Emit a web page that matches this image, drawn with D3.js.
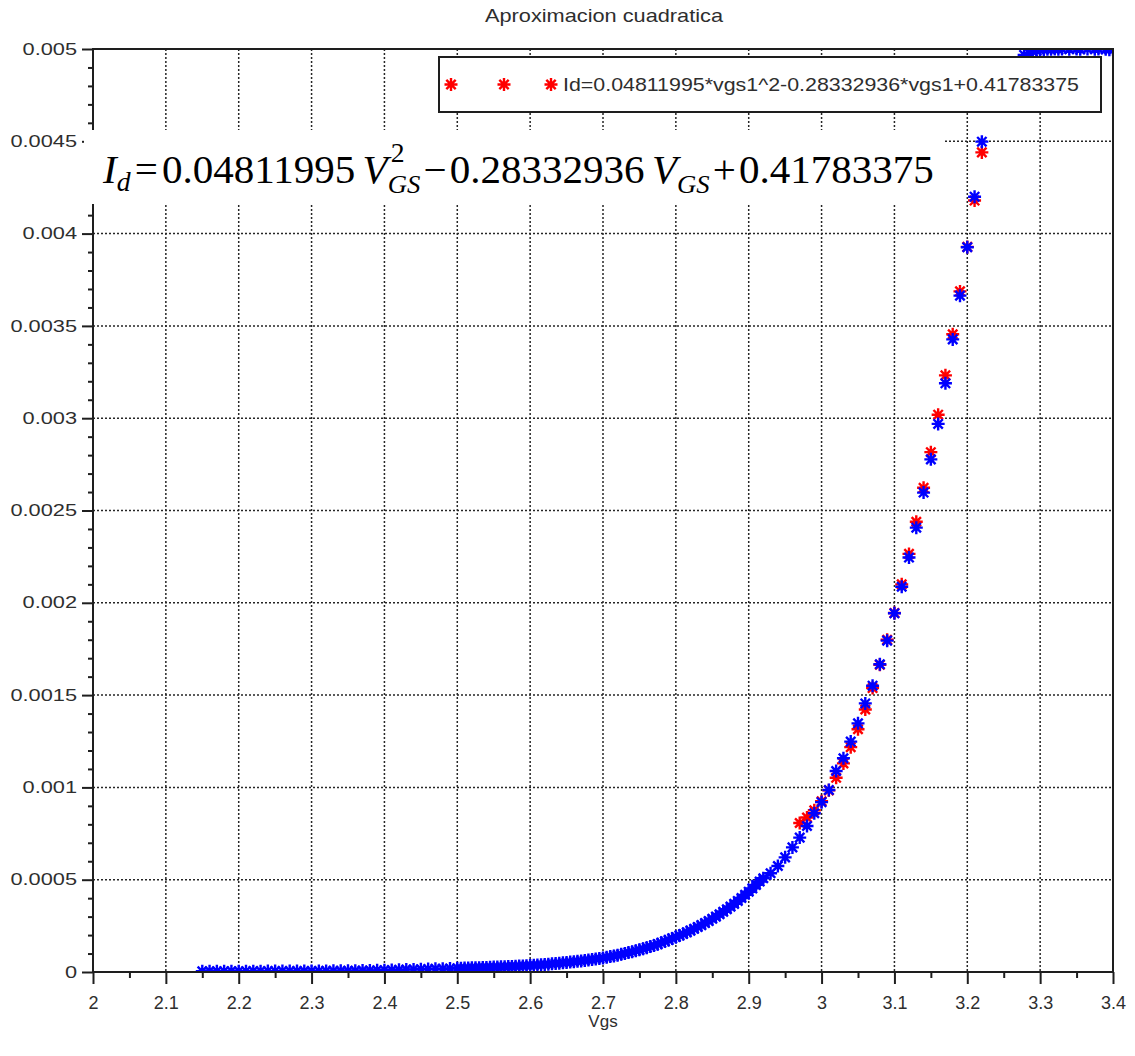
<!DOCTYPE html>
<html>
<head>
<meta charset="utf-8">
<script src="https://cdn.jsdelivr.net/npm/d3@7"></script>
<style>
  body { margin: 0; background: #fff; }
  svg { display: block; }
</style>
</head>
<body>
<svg id="chart" width="1135" height="1056"></svg>
<script>
// ---- text ----
const titleText = "Aproximacion cuadratica";
const xAxisLabel = "Vgs";
const legendLabel = "Id=0.04811995*vgs1^2-0.28332936*vgs1+0.41783375";

// ---- axis ticks ----
const xTicks = [2, 2.1, 2.2, 2.3, 2.4, 2.5, 2.6, 2.7, 2.8, 2.9, 3, 3.1, 3.2, 3.3, 3.4];
const xTickLabels = ["2", "2.1", "2.2", "2.3", "2.4", "2.5", "2.6", "2.7", "2.8", "2.9", "3", "3.1", "3.2", "3.3", "3.4"];
const yTicks = [0, 0.0005, 0.001, 0.0015, 0.002, 0.0025, 0.003, 0.0035, 0.004, 0.0045, 0.005];
const yTickLabels = ["0", "0.0005", "0.001", "0.0015", "0.002", "0.0025", "0.003", "0.0035", "0.004", "0.0045", "0.005"];

// ---- quadratic fit, evaluated on the upper part of the sweep (A) ----
const fitVgs = [2.97, 2.98, 2.99, 3.00, 3.01, 3.02, 3.03, 3.04, 3.05, 3.06, 3.07, 3.08, 3.09,
                3.10, 3.11, 3.12, 3.13, 3.14, 3.15, 3.16, 3.17, 3.18, 3.19, 3.20, 3.21, 3.22];
const fitId = [0.000807, 0.000837, 0.000876, 0.000925, 0.000984, 0.001052, 0.001130, 0.001218,
               0.001315, 0.001422, 0.001538, 0.001664, 0.001800, 0.001945, 0.002100, 0.002265,
               0.002439, 0.002623, 0.002816, 0.003019, 0.003232, 0.003455, 0.003687, 0.003928,
               0.004179, 0.004440];

// ---- measured drain current vs gate voltage (A) ----
const measVgs = [
  2.15, 2.16, 2.17, 2.18, 2.19, 2.20, 2.21, 2.22, 2.23, 2.24, 2.25, 2.26, 2.27, 2.28, 2.29,
  2.30, 2.31, 2.32, 2.33, 2.34, 2.35, 2.36, 2.37, 2.38, 2.39,
  2.40, 2.41, 2.42, 2.43, 2.44, 2.45, 2.46, 2.47, 2.48, 2.49,
  2.500, 2.505, 2.510, 2.515, 2.520, 2.525, 2.530, 2.535, 2.540, 2.545,
  2.550, 2.555, 2.560, 2.565, 2.570, 2.575, 2.580, 2.585, 2.590, 2.595,
  2.600, 2.605, 2.610, 2.615, 2.620, 2.625, 2.630, 2.635, 2.640, 2.645,
  2.650, 2.655, 2.660, 2.665, 2.670, 2.675, 2.680, 2.685, 2.690, 2.695,
  2.700, 2.705, 2.710, 2.715, 2.720, 2.725, 2.730, 2.735, 2.740, 2.745,
  2.750, 2.755, 2.760, 2.765, 2.770, 2.775, 2.780, 2.785, 2.790, 2.795,
  2.800, 2.805, 2.810, 2.815, 2.820, 2.825, 2.830, 2.835, 2.840, 2.845,
  2.850, 2.855, 2.860, 2.865, 2.870, 2.875, 2.880, 2.885, 2.890, 2.895,
  2.900, 2.905, 2.910, 2.915, 2.920,
  2.93, 2.94, 2.95, 2.96, 2.97, 2.98, 2.99, 3.00, 3.01, 3.02, 3.03, 3.04, 3.05, 3.06, 3.07,
  3.08, 3.09, 3.10, 3.11, 3.12, 3.13, 3.14, 3.15, 3.16, 3.17, 3.18, 3.19, 3.20, 3.21, 3.22,
  3.278, 3.285, 3.290, 3.295, 3.300, 3.305, 3.310, 3.315, 3.320, 3.325, 3.330, 3.340,
  3.350, 3.355, 3.365, 3.375, 3.380, 3.390, 3.395, 3.400
];
const measId = [
  4.0e-6, 4.2e-6, 4.0e-6, 4.3e-6, 4.4e-6, 4.2e-6, 4.5e-6, 4.6e-6, 4.5e-6, 4.8e-6, 4.9e-6, 5.0e-6, 5.0e-6, 5.3e-6, 5.4e-6,
  5.6e-6, 5.8e-6, 6.0e-6, 6.2e-6, 6.5e-6, 6.8e-6, 7.2e-6, 7.7e-6, 8.3e-6, 9.0e-6,
  1.0e-5, 1.1e-5, 1.2e-5, 1.3e-5, 1.4e-5, 1.5e-5, 1.6e-5, 1.7e-5, 1.8e-5, 1.9e-5,
  2.00e-5, 2.06e-5, 2.12e-5, 2.17e-5, 2.24e-5, 2.30e-5, 2.37e-5, 2.43e-5, 2.50e-5, 2.57e-5,
  2.65e-5, 2.72e-5, 2.80e-5, 2.88e-5, 2.96e-5, 3.04e-5, 3.13e-5, 3.22e-5, 3.31e-5, 3.40e-5,
  3.50e-5, 3.64e-5, 3.78e-5, 3.93e-5, 4.09e-5, 4.25e-5, 4.42e-5, 4.59e-5, 4.77e-5, 4.96e-5,
  5.16e-5, 5.36e-5, 5.57e-5, 5.79e-5, 6.02e-5, 6.26e-5, 6.51e-5, 6.76e-5, 7.03e-5, 7.31e-5,
  7.60e-5, 7.96e-5, 8.33e-5, 8.72e-5, 9.13e-5, 9.56e-5, 1.00e-4, 1.05e-4, 1.10e-4, 1.15e-4,
  1.20e-4, 1.26e-4, 1.32e-4, 1.38e-4, 1.44e-4, 1.51e-4, 1.58e-4, 1.66e-4, 1.73e-4, 1.82e-4,
  1.90e-4, 1.98e-4, 2.06e-4, 2.15e-4, 2.24e-4, 2.34e-4, 2.44e-4, 2.54e-4, 2.65e-4, 2.76e-4,
  2.88e-4, 3.00e-4, 3.13e-4, 3.26e-4, 3.40e-4, 3.54e-4, 3.69e-4, 3.85e-4, 4.01e-4, 4.18e-4,
  4.35e-4, 4.53e-4, 4.72e-4, 4.90e-4, 5.08e-4,
  5.35e-4, 5.74e-4, 6.21e-4, 6.75e-4, 7.28e-4, 7.91e-4, 8.60e-4, 9.20e-4, 9.86e-4, 1.089e-3,
  1.158e-3, 1.248e-3, 1.347e-3, 1.455e-3, 1.551e-3, 1.667e-3, 1.795e-3, 1.943e-3, 2.087e-3, 2.245e-3,
  2.407e-3, 2.597e-3, 2.777e-3, 2.969e-3, 3.189e-3, 3.427e-3, 3.664e-3, 3.926e-3, 4.200e-3, 4.498e-3,
  4.968e-3, 4.978e-3, 4.986e-3, 4.991e-3, 4.995e-3, 4.997e-3, 4.998e-3, 4.999e-3, 5.000e-3, 4.998e-3,
  5.000e-3, 4.999e-3, 5.000e-3, 4.998e-3, 5.000e-3, 4.999e-3, 5.000e-3, 4.998e-3, 4.996e-3, 4.999e-3
];

// ---- layout ----
const W = 1135, H = 1056;
const plot = { left: 93, right: 1113, top: 49, bottom: 972 };
const sans = "'Liberation Sans', Arial, Helvetica, sans-serif";
const serif = "'Liberation Serif', 'Times New Roman', Times, serif";
const labelColor = "#2e2e2e";
const axisColor = "#1e1e1e";

const svg = d3.select("#chart");

const x = d3.scaleLinear().domain([2, 3.4]).range([plot.left, plot.right]);
const y = d3.scaleLinear().domain([0, 0.005]).range([plot.bottom, plot.top]);

const xMinor = d3.range(2.05, 3.4, 0.1);
const yMinor = d3.range(1, 50).filter(i => i % 5 !== 0).map(i => i * 1e-4);

// widen a text node horizontally by a factor
function stretch(sel, k) {
  sel.each(function () {
    const w = this.getComputedTextLength();
    d3.select(this).attr("textLength", w * k).attr("lengthAdjust", "spacingAndGlyphs");
  });
}

// ---- dotted grid ----
const grid = svg.append("g")
  .attr("stroke", "#262626")
  .attr("stroke-width", 1.5)
  .attr("stroke-dasharray", "2,2");
grid.selectAll("line.gx").data(xTicks.slice(1, -1)).join("line")
  .attr("class", "gx")
  .attr("x1", d => x(d)).attr("x2", d => x(d))
  .attr("y1", plot.top).attr("y2", plot.bottom);
grid.selectAll("line.gy").data(yTicks.slice(1, -1)).join("line")
  .attr("class", "gy")
  .attr("x1", plot.left).attr("x2", plot.right)
  .attr("y1", d => y(d)).attr("y2", d => y(d));

// ---- asterisk marker ----
function asterisk(r) {
  const k = r * 0.72;
  return `M${-r},0H${r}M0,${-r}V${r}M${-k},${-k}L${k},${k}M${-k},${k}L${k},${-k}`;
}
const markR = 6.5;
const markW = 2.4;

svg.append("clipPath").attr("id", "plotClip")
  .append("rect")
  .attr("x", plot.left).attr("y", plot.top)
  .attr("width", plot.right - plot.left).attr("height", plot.bottom - plot.top);

const marks = svg.append("g").attr("clip-path", "url(#plotClip)");

// fitted curve (red) below measured points (blue)
marks.append("g")
  .attr("stroke", "#ff0000").attr("stroke-width", markW).attr("fill", "none")
  .selectAll("path").data(fitVgs).join("path")
  .attr("d", asterisk(markR))
  .attr("transform", (d, i) => `translate(${x(d)},${y(fitId[i])})`);

marks.append("g")
  .attr("stroke", "#0000ff").attr("stroke-width", markW).attr("fill", "none")
  .selectAll("path").data(measVgs).join("path")
  .attr("d", asterisk(markR))
  .attr("transform", (d, i) => `translate(${x(d)},${y(measId[i])})`);

// ---- axes ----
const xAxisG = svg.append("g").attr("transform", `translate(0,${plot.bottom})`)
  .call(d3.axisBottom(x).tickValues(xTicks).tickFormat((d, i) => xTickLabels[i])
    .tickSize(12).tickSizeOuter(0));
xAxisG.select(".domain").remove();
xAxisG.selectAll(".tick line").attr("stroke", axisColor).attr("stroke-width", 2);
xAxisG.selectAll(".tick text")
  .attr("y", 37).attr("dy", 0)
  .attr("font-family", sans).attr("font-size", 18).attr("fill", labelColor);

const xMinorG = svg.append("g").attr("transform", `translate(0,${plot.bottom})`)
  .call(d3.axisBottom(x).tickValues(xMinor).tickFormat("").tickSize(6).tickSizeOuter(0));
xMinorG.select(".domain").remove();
xMinorG.selectAll(".tick line").attr("stroke", axisColor).attr("stroke-width", 2);

const yAxisG = svg.append("g").attr("transform", `translate(${plot.left},0)`)
  .call(d3.axisLeft(y).tickValues(yTicks).tickFormat((d, i) => yTickLabels[i])
    .tickSize(11).tickPadding(5).tickSizeOuter(0));
yAxisG.select(".domain").remove();
yAxisG.selectAll(".tick line").attr("stroke", axisColor).attr("stroke-width", 2);
yAxisG.selectAll(".tick text")
  .attr("font-family", sans).attr("font-size", 16).attr("fill", labelColor);
stretch(yAxisG.selectAll(".tick text"), 1.36);

const yMinorG = svg.append("g").attr("transform", `translate(${plot.left},0)`)
  .call(d3.axisLeft(y).tickValues(yMinor).tickFormat("").tickSize(5).tickSizeOuter(0));
yMinorG.select(".domain").remove();
yMinorG.selectAll(".tick line").attr("stroke", axisColor).attr("stroke-width", 2);

// axes box
svg.append("rect")
  .attr("x", plot.left).attr("y", plot.top)
  .attr("width", plot.right - plot.left).attr("height", plot.bottom - plot.top)
  .attr("fill", "none").attr("stroke", axisColor).attr("stroke-width", 2);

// ---- title and axis label ----
svg.append("text")
  .attr("x", 485).attr("y", 21.5)
  .attr("font-family", sans).attr("font-size", 18.5).attr("fill", labelColor)
  .attr("textLength", 238).attr("lengthAdjust", "spacingAndGlyphs")
  .text(titleText);

svg.append("text")
  .attr("x", (plot.left + plot.right) / 2).attr("y", 1027)
  .attr("text-anchor", "middle")
  .attr("font-family", sans).attr("font-size", 17).attr("fill", labelColor)
  .text(xAxisLabel);

// ---- equation annotation on a white panel ----
svg.append("rect")
  .attr("x", 84).attr("y", 130).attr("width", 861).attr("height", 74)
  .attr("fill", "#fff");

const eq = svg.append("g")
  .attr("font-family", serif).attr("fill", "#000");
let cx = 0;
function piece(str, opt) {
  const o = Object.assign({ italic: false, size: 40, dy: 0, gap: 0 }, opt || {});
  const t = eq.append("text")
    .attr("x", cx + o.gap).attr("y", o.dy)
    .attr("font-size", o.size)
    .attr("font-style", o.italic ? "italic" : "normal")
    .text(str);
  const w = t.node().getComputedTextLength();
  return { t, w: o.gap + w };
}
function add(str, opt) { cx += piece(str, opt).w; }
add("I", { italic: true });
add("d", { italic: true, size: 27, dy: 8 });
add("=", { gap: 4 });
add("0.04811995", { gap: 4 });
add("V", { italic: true, gap: 7 });
{
  const sup = piece("2", { size: 27, dy: -21, gap: 3 });
  const sub = piece("GS", { italic: true, size: 26, dy: 10, gap: 0 });
  cx += Math.max(sup.w, sub.w);
}
add("\u2212", { gap: 3 });
add("0.28332936", { gap: 3 });
add("V", { italic: true, gap: 7 });
add("GS", { italic: true, size: 26, dy: 10 });
add("+", { gap: 3 });
add("0.41783375", { gap: 3 });
const eqScale = (934 - 103) / cx;
eq.attr("transform", `translate(103,183) scale(${eqScale},1)`);

// ---- legend ----
const leg = svg.append("g");
leg.append("rect")
  .attr("x", 439).attr("y", 57).attr("width", 662).attr("height", 55)
  .attr("fill", "#fff").attr("stroke", axisColor).attr("stroke-width", 2);
leg.append("g")
  .attr("stroke", "#ff0000").attr("stroke-width", markW).attr("fill", "none")
  .selectAll("path").data([451, 504, 551]).join("path")
  .attr("d", asterisk(markR))
  .attr("transform", d => `translate(${d},84.5)`);
leg.append("text")
  .attr("x", 563).attr("y", 91)
  .attr("font-family", sans).attr("font-size", 19).attr("fill", labelColor)
  .attr("textLength", 516).attr("lengthAdjust", "spacingAndGlyphs")
  .text(legendLabel);
</script>
</body>
</html>
